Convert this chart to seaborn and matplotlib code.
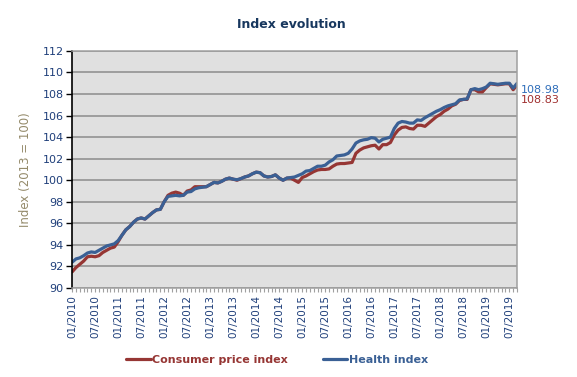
import matplotlib
matplotlib.use("Agg")
import matplotlib.pyplot as plt
import numpy as np
import pandas as pd
import seaborn as sns
from matplotlib.ticker import MultipleLocator

BACKGROUND_COLOR = "#E0E0E0"
GRID_COLOR = "#8C8C8C"
CPI_COLOR = "#963634"
HEALTH_COLOR = "#3A6095"
TICK_COLOR = "#1F3F7A"
LINE_WIDTH = 2.3

# Monthly values, 01/2010 .. 09/2019
cpi_index = [
    91.5, 91.9, 92.2, 92.5, 92.9, 92.95, 92.9, 93.0, 93.3, 93.5, 93.7, 93.8,
    94.3, 94.9, 95.4, 95.7, 96.1, 96.4, 96.5, 96.4, 96.7, 97.0, 97.25, 97.3,
    98.0, 98.6, 98.8, 98.9, 98.8, 98.6, 99.0, 99.1, 99.4, 99.4, 99.4, 99.4,
    99.6, 99.8, 99.75, 99.9, 100.1, 100.2, 100.1, 100.0, 100.15, 100.3, 100.4, 100.6,
    100.75, 100.7, 100.4, 100.3, 100.35, 100.5, 100.2, 100.0, 100.2, 100.2, 100.0, 99.8,
    100.25, 100.4, 100.6, 100.8, 100.95, 101.0, 101.0, 101.05, 101.3, 101.5, 101.55, 101.55,
    101.6, 101.65, 102.5, 102.8, 103.0, 103.1, 103.2, 103.25, 102.9, 103.3, 103.3, 103.5,
    104.2, 104.65, 104.9, 104.95, 104.8, 104.75, 105.1, 105.1, 105.0, 105.3, 105.6, 105.9,
    106.1, 106.4, 106.6, 106.9, 107.05, 107.4, 107.5, 107.5, 108.4, 108.4, 108.2, 108.2,
    108.6, 108.95, 108.9, 108.85, 108.9, 108.95, 108.95, 108.4, 108.83,
]
health_index = [
    92.4, 92.7, 92.8, 93.0, 93.25, 93.35, 93.3, 93.5, 93.7, 93.9, 94.0, 94.1,
    94.4, 94.9, 95.4, 95.7, 96.1, 96.4, 96.5, 96.4, 96.7, 97.0, 97.25, 97.3,
    98.0, 98.5, 98.55, 98.6, 98.55, 98.6, 98.9, 98.95, 99.2, 99.3, 99.35, 99.4,
    99.6, 99.8, 99.75, 99.9, 100.1, 100.2, 100.1, 100.05, 100.15, 100.3, 100.4, 100.6,
    100.75, 100.7, 100.4, 100.3, 100.35, 100.5, 100.2, 100.0, 100.2, 100.25, 100.3, 100.45,
    100.6, 100.85, 100.9, 101.1, 101.3, 101.3, 101.4, 101.7, 101.9, 102.25, 102.3, 102.35,
    102.5, 102.9, 103.45, 103.65, 103.75, 103.8, 103.95, 103.9, 103.55, 103.8, 103.9, 104.0,
    104.8, 105.3, 105.45, 105.4, 105.3, 105.3, 105.6, 105.55, 105.8, 106.0, 106.2, 106.4,
    106.55, 106.75, 106.9, 107.0, 107.1, 107.45, 107.5, 107.55, 108.4, 108.5, 108.4, 108.5,
    108.65, 109.0, 108.95, 108.9, 108.95, 109.0, 109.0, 108.55, 108.98,
]
months = pd.date_range("2010-01-01", periods=len(cpi_index), freq="MS")
tick_labels = [d.strftime("%m/%Y") for d in months[::6]]
series_names = ["Consumer price index", "Health index"]

df = pd.DataFrame(
    {
        "month": np.arange(len(months)),
        series_names[0]: cpi_index,
        series_names[1]: health_index,
    }
).melt(id_vars="month", var_name="series", value_name="value")

sns.set_theme(style="white")
plt.rcParams["font.family"] = ["DejaVu Sans"]

fig = plt.figure(figsize=(5.77, 3.77), dpi=100)
ax = fig.add_axes([0.125, 0.236, 0.771, 0.629])
ax.set_facecolor(BACKGROUND_COLOR)

sns.lineplot(
    data=df,
    x="month",
    y="value",
    hue="series",
    palette=[CPI_COLOR, HEALTH_COLOR],
    linewidth=LINE_WIDTH,
    ax=ax,
    legend=False,
)

ax.set_xlim(0, len(months) - 1)
ax.set_ylim(90, 112)
ax.yaxis.set_major_locator(MultipleLocator(2))
ax.grid(axis="y", color=GRID_COLOR, linewidth=1.1)
ax.set_axisbelow(True)

ax.set_xticks(np.arange(0, len(months), 6))
ax.set_xticklabels(tick_labels, rotation=90, fontsize=7.5, color=TICK_COLOR)
ax.xaxis.set_minor_locator(MultipleLocator(1))
ax.tick_params(axis="x", which="both", direction="out", bottom=True,
               color="#A0A0A0", length=3, width=0.8, pad=2)
ax.tick_params(axis="y", direction="out", left=True, color="black",
               length=4, width=1, labelsize=8, labelcolor=TICK_COLOR, pad=2)

for side in ["top", "right", "bottom"]:
    ax.spines[side].set_color("#A0A0A0")
    ax.spines[side].set_linewidth(1.1)
ax.spines["left"].set_color("black")
ax.spines["left"].set_linewidth(1.2)

ax.set_xlabel("")
ax.set_ylabel("Index (2013 = 100)", fontsize=8.5, color="#948A6A", labelpad=8)

# End labels
last = len(months) - 1
ax.annotate(f"{health_index[-1]:.2f}", xy=(last, health_index[-1]),
            xytext=(3, -4.5), textcoords="offset points", va="center", ha="left",
            fontsize=8, color="#2F6EBA", annotation_clip=False)
ax.annotate(f"{cpi_index[-1]:.2f}", xy=(last, cpi_index[-1]),
            xytext=(3, -11), textcoords="offset points", va="center", ha="left",
            fontsize=8, color="#A03030", annotation_clip=False)

fig.text(0.505, 0.935, "Index evolution", ha="center", va="center",
         fontsize=9, fontweight="bold", color="#17375E")

handles = [
    plt.Line2D([], [], color=CPI_COLOR, linewidth=LINE_WIDTH),
    plt.Line2D([], [], color=HEALTH_COLOR, linewidth=LINE_WIDTH),
]
leg = fig.legend(handles, series_names, loc="center", bbox_to_anchor=(0.48, 0.045),
                 ncol=2, frameon=False, handlelength=2.2, handletextpad=0.1,
                 columnspacing=3.2, prop={"size": 8, "weight": "bold"})
for text, color in zip(leg.get_texts(), [CPI_COLOR, HEALTH_COLOR]):
    text.set_color(color)

fig.savefig("out.png", dpi=100)
